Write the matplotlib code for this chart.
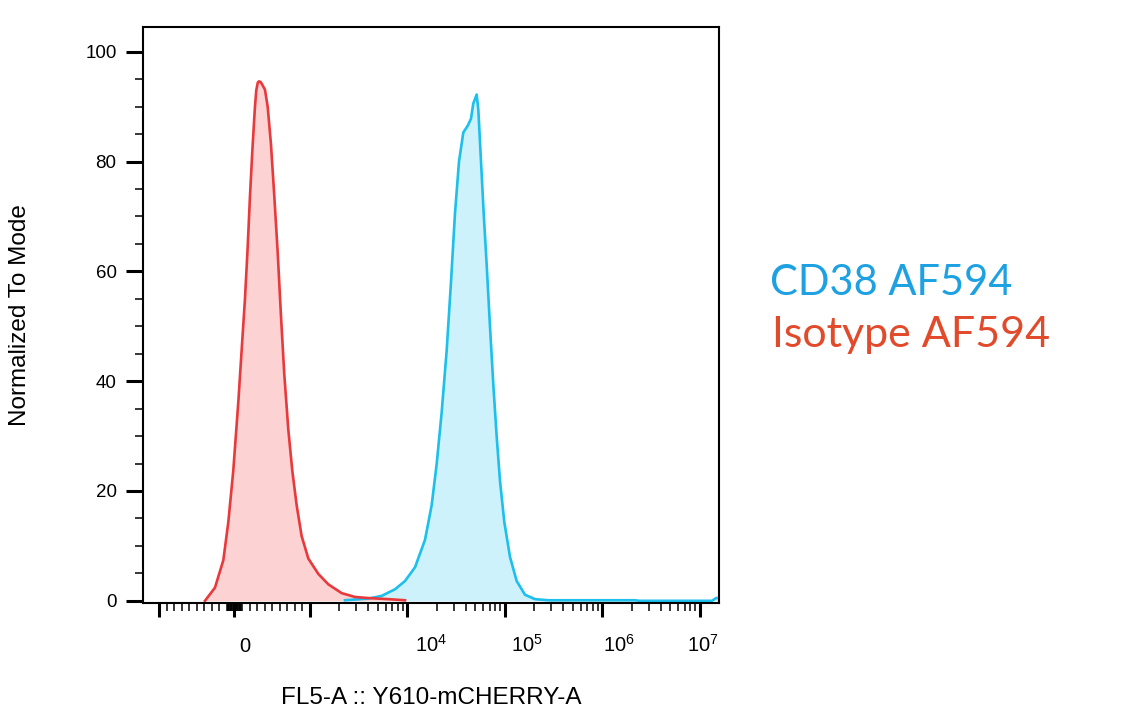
import numpy as np
import matplotlib
matplotlib.use("Agg")
import matplotlib.pyplot as plt
import matplotlib.transforms as mtransforms
from matplotlib.ticker import FixedLocator, FixedFormatter, NullFormatter

# ---------------- data ----------------
red_x = [-392, -259, -148, -82, -16, 51, 95, 139, 175, 206, 237, 272, 290, 310, 326,
         345, 361, 405, 441, 485, 529, 573, 618, 662, 715, 768, 826, 892, 981, 1224,
         1550, 2124, 2910, 3987, 6394, 9478]
red_y = [0, 2.4, 7.4, 14.3, 23.7, 36.2, 45.6, 54.9, 64.3, 73.7, 81.9, 90.0, 93.0,
         94.4, 94.6, 94.5, 94.2, 93.1, 90.0, 83.1, 73.7, 63.7, 51.8, 41.2, 31.2, 23.7,
         17.4, 11.8, 7.7, 4.9, 3.0, 1.4, 0.7, 0.5, 0.3, 0.1]

blue_x = [2298, 3987, 5467, 7484, 9478, 12007, 15200, 17790, 20020, 22530, 25360,
          28090, 30870, 33930, 37580, 41640, 45040, 47600, 51500, 53570, 57040,
          60750, 65230, 70550, 76330, 82600, 89360, 98970, 113100, 132400,
          161300, 204200, 279600, 600000, 2166000, 2400000, 13340000, 14700000,
          15740000]
blue_y = [0.1, 0.4, 0.9, 2.1, 3.6, 6.1, 11.1, 17.4, 24.9, 34.3, 45.6, 58.1, 70.6,
          80.0, 85.3, 86.5, 87.8, 90.6, 92.2, 89.4, 80.0, 70.6, 61.2, 49.9, 39.3,
          29.9, 21.8, 14.3, 8.0, 3.6, 1.1, 0.3, 0.1, 0.1, 0.1, 0, 0, 0.5, 0.5]

x_major = [-1000, 0, 1000, 1e4, 1e5, 1e6, 1e7]
x_major_labels = ["", "0", "", r"$\mathregular{10^{4}}$", r"$\mathregular{10^{5}}$",
                  r"$\mathregular{10^{6}}$", r"$\mathregular{10^{7}}$"]
y_major = [0, 20, 40, 60, 80, 100]

series_names = ["CD38 AF594", "Isotype AF594"]
x_label = "FL5-A :: Y610-mCHERRY-A"
y_label = "Normalized To Mode"

# ---------------- style ----------------
plt.rcParams["font.family"] = ["Liberation Sans", "DejaVu Sans"]
plt.rcParams["mathtext.fontset"] = "custom"
plt.rcParams["mathtext.rm"] = "Liberation Sans"
plt.rcParams["mathtext.it"] = "Liberation Sans:italic"
plt.rcParams["mathtext.bf"] = "Liberation Sans:bold"

RED_LINE, RED_FILL = "#E8393C", "#FCD2D3"
BLUE_LINE, BLUE_FILL = "#1DBFEC", "#CDF2FC"
LEG_BLUE, LEG_RED = "#1DA1E2", "#E24A2C"

# biexponential-like display transform (linear near zero, log beyond 1000)
T, L = 1000.0, 0.772


def fwd(x):
    x = np.asarray(x, float)
    a = np.abs(x)
    return np.sign(x) * np.where(a <= T, a / T * L, L + np.log10(np.maximum(a, T) / T))


def inv(u):
    u = np.asarray(u, float)
    a = np.abs(u)
    return np.sign(u) * np.where(a <= L, a / L * T, T * 10 ** (np.maximum(a, L) - L))


W, H = 1138, 710
fig = plt.figure(figsize=(W / 100, H / 100), dpi=100)
ax = fig.add_axes([143 / W, (H - 603) / H, (719 - 143) / W, (603 - 27) / H])
ax.set_xscale("function", functions=(fwd, inv))
ax.set_xlim(-1466, 1.574e7)
ax.set_ylim(-0.4, 104.5)

# histograms
ax.fill_between(blue_x, blue_y, 0, color=BLUE_FILL, lw=0, zorder=1)
ax.plot(blue_x, blue_y, color=BLUE_LINE, lw=1.9, zorder=3, solid_joinstyle="round")
ax.fill_between(red_x, red_y, 0, color=RED_FILL, lw=0, zorder=2)
ax.plot(red_x, red_y, color=RED_LINE, lw=1.9, zorder=4, solid_joinstyle="round")

# spines
for s in ax.spines.values():
    s.set_linewidth(1.5)
    s.set_color("black")
    s.set_zorder(5)

# y ticks
ax.yaxis.set_major_locator(FixedLocator(y_major))
ax.yaxis.set_minor_locator(FixedLocator([v for v in range(0, 105, 5) if v % 20]))
ax.tick_params(axis="y", which="major", direction="out", length=12, width=2.2,
               pad=7, labelsize=13.5)
ax.tick_params(axis="y", which="minor", direction="out", length=5.5, width=1.1)

# x ticks
minor = []
for m in range(2, 10):
    minor.append(-m * 100)
    minor.append(m * 100)
for m in range(1, 11):
    minor.append(-m * 10)
    minor.append(m * 10)
for dec in (1e3, 1e4, 1e5, 1e6):
    for m in range(2, 10):
        minor.append(m * dec)
ax.xaxis.set_major_locator(FixedLocator(x_major))
ax.xaxis.set_major_formatter(FixedFormatter(x_major_labels))
ax.xaxis.set_minor_locator(FixedLocator(sorted(minor)))
ax.xaxis.set_minor_formatter(NullFormatter())
ax.tick_params(axis="x", which="major", direction="out", length=10, width=2.2,
               pad=25, labelsize=14.5)
ax.tick_params(axis="x", which="minor", direction="out", length=5.5, width=1.1)

# FlowJo-style label placement (labels sit right of their ticks)
label_shift_px = [0, 10, 0, 24, 22, 17, 3]
for lab, dx in zip(ax.get_xticklabels(), label_shift_px):
    lab.set_verticalalignment("baseline")
    lab.set_transform(lab.get_transform()
                      + mtransforms.ScaledTranslation(dx / 100, 0, fig.dpi_scale_trans))

ax.set_xlabel(x_label, fontsize=17.5)
ax.xaxis.set_label_coords(0.5, -0.146)
ax.set_ylabel(y_label, fontsize=17.5)
ax.yaxis.set_label_coords(-0.195, 0.5)

# legend-like texts
fig.text(770 / W, 1 - 295 / H, series_names[0], color=LEG_BLUE, fontsize=30,
         family="Lato", ha="left", va="baseline")
fig.text(772 / W, 1 - 347 / H, series_names[1], color=LEG_RED, fontsize=31,
         family="Lato", ha="left", va="baseline")

fig.savefig("out.png", dpi=100)
